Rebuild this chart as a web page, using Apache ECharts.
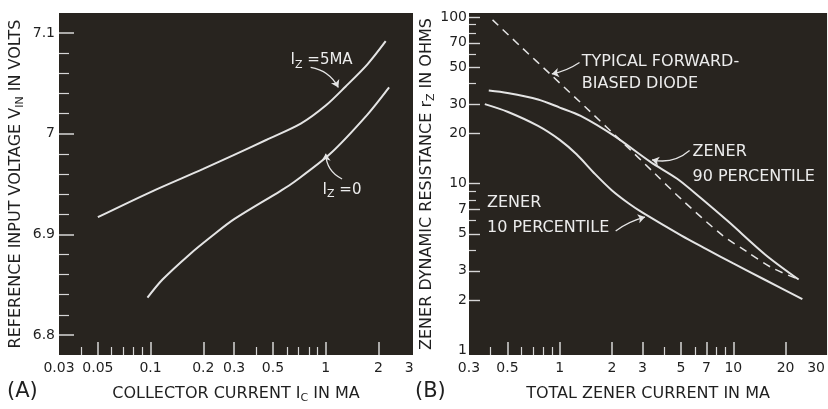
<!DOCTYPE html>
<html><head><meta charset="utf-8">
<script src="https://cdn.jsdelivr.net/npm/echarts@6/dist/echarts.min.js"></script>
<style>html,body{margin:0;padding:0;background:#fff}#c{width:828px;height:409px}</style>
</head><body><div id="c"></div>
<script>
// ---------- Panel A data ----------
const aXLabels = [0.03, 0.05, 0.1, 0.2, 0.3, 0.5, 1, 2, 3];
const aXMajorTicks = [0.05, 0.1, 0.2, 0.3, 0.5, 1, 2];
const aXMinorTicks = [0.04, 0.06, 0.07, 0.08, 0.09, 0.4, 0.6, 0.7, 0.8, 0.9];
const aYLabels = [6.8, 6.9, 7, 7.1];
const aYMinorTicks = [6.82, 6.84, 6.86, 6.88, 6.92, 6.94, 6.96, 6.98, 7.02, 7.04, 7.06, 7.08];
const iz5X = [0.05, 0.1, 0.2, 0.3, 0.46, 0.72, 1.0, 1.3, 1.73, 2.2];
const iz5V = [6.917, 6.942, 6.965, 6.979, 6.994, 7.010, 7.028, 7.047, 7.069, 7.092];
const iz0X = [0.096, 0.117, 0.167, 0.227, 0.3, 0.55, 0.66, 1.06, 1.73, 2.3];
const iz0V = [6.837, 6.855, 6.880, 6.899, 6.915, 6.943, 6.952, 6.980, 7.019, 7.046];

// ---------- Panel B data ----------
const bXLabels = [0.3, 0.5, 1, 2, 3, 5, 7, 10, 20, 30];
const bXMajorTicks = [0.5, 1, 2, 3, 5, 7, 10, 20];
const bXMinorTicks = [0.4, 0.6, 0.7, 0.8, 0.9, 4, 6, 8, 9];
const bYLabels = [1, 2, 3, 5, 7, 10, 20, 30, 50, 70, 100];
const bYMajorTicks = [2, 3, 5, 7, 10, 20, 30, 50, 70, 100];
const bYMinorTicks = [4, 6, 8, 9, 40, 60, 80, 90];
const diodeX = [0.41, 0.6, 0.89, 1.5, 2.3, 3.5, 5, 8.6, 12, 16.7, 23.5];
const diodeR = [96, 66, 45, 27, 17.7, 11.6, 8.1, 4.93, 3.9, 3.13, 2.68];
const z90X = [0.39, 0.5, 0.75, 1.0, 1.32, 2.05, 3.33, 4.75, 6.5, 9.4, 15.3, 23.8];
const z90R = [36.2, 35.0, 32, 28.6, 25.5, 19.4, 13.5, 10.7, 8.2, 5.9, 3.75, 2.66];
const z10X = [0.37, 0.5, 0.75, 1.0, 1.25, 1.6, 2.0, 2.5, 3.0, 5.0, 7.0, 10, 15, 25];
const z10R = [30, 27, 22.2, 18.3, 15.0, 11.4, 9.1, 7.6, 6.7, 4.9, 4.05, 3.32, 2.67, 2.03];

const FONT = 'DejaVu Sans';
const BOX = '#28241f';
const INK = '#1f1f1f';
const CURVE = '#e4e4e4';
const TICK = '#d6d6d6';

const zip = (xs, ys) => xs.map((x, i) => [x, ys[i]]);
const fmt = v => String(+(+v).toPrecision(3));
const sub = {fontFamily: FONT, fontSize: 11, color: INK, verticalAlign: 'bottom', lineHeight: 12};

function xAxes(grid, min, max, labels, major, minor, name) {
  return [
    {type: 'log', gridIndex: grid, min, max, position: 'bottom',
     axisLine: {show: false}, splitLine: {show: false},
     axisTick: {show: true, inside: true, length: 13, customValues: major, lineStyle: {color: TICK, width: 1.5}},
     axisLabel: {customValues: labels, formatter: fmt, color: INK, fontFamily: FONT, fontSize: 14, margin: 6, showMinLabel: true, showMaxLabel: true},
     name, nameLocation: 'middle', nameGap: 29,
     nameTextStyle: {color: INK, fontFamily: FONT, fontSize: 16, lineHeight: 20, rich: {sub}}},
    {type: 'log', gridIndex: grid, min, max, position: 'bottom',
     axisLine: {show: false}, splitLine: {show: false}, axisLabel: {show: false},
     axisTick: {show: true, inside: true, length: 8, customValues: minor, lineStyle: {color: TICK, width: 1.2}}}
  ];
}

function curve(xi, yi, data, width, type) {
  return {type: 'line', xAxisIndex: xi, yAxisIndex: yi, data, smooth: 0.3,
          showSymbol: false, lineStyle: {color: CURVE, width: width || 2, type: type || 'solid'}};
}

const option = {
  backgroundColor: '#ffffff',
  animation: false,
  grid: [
    {left: 59, top: 13, width: 354, height: 342, show: true, backgroundColor: BOX, borderWidth: 0},
    {left: 469, top: 13, width: 359, height: 345, show: true, backgroundColor: BOX, borderWidth: 0}
  ],
  xAxis: [
    ...xAxes(0, 0.03, 3.15, aXLabels, aXMajorTicks, aXMinorTicks, 'COLLECTOR CURRENT I{sub|C} IN MA'),
    ...xAxes(1, 0.3, 34.7, bXLabels, bXMajorTicks, bXMinorTicks, 'TOTAL ZENER CURRENT IN MA')
  ],
  yAxis: [
    {type: 'value', gridIndex: 0, min: 6.78, max: 7.12, position: 'left',
     axisLine: {show: false}, splitLine: {show: false},
     axisTick: {show: true, inside: true, length: 15, customValues: aYLabels, lineStyle: {color: TICK, width: 1.5}},
     axisLabel: {customValues: aYLabels, formatter: fmt, color: INK, fontFamily: FONT, fontSize: 14, margin: 4},
     name: 'REFERENCE INPUT VOLTAGE V{sub|IN} IN VOLTS', nameLocation: 'middle', nameRotate: 90, nameGap: 33,
     nameTextStyle: {color: INK, fontFamily: FONT, fontSize: 16, lineHeight: 20, rich: {sub}}},
    {type: 'value', gridIndex: 0, min: 6.78, max: 7.12, position: 'left',
     axisLine: {show: false}, splitLine: {show: false}, axisLabel: {show: false},
     axisTick: {show: true, inside: true, length: 10, customValues: aYMinorTicks, lineStyle: {color: TICK, width: 1.2}}},
    {type: 'log', gridIndex: 1, min: 0.938, max: 105.6, position: 'left',
     axisLine: {show: false}, splitLine: {show: false},
     axisTick: {show: true, inside: true, length: 11, customValues: bYMajorTicks, lineStyle: {color: TICK, width: 1.4}},
     axisLabel: {customValues: bYLabels, formatter: fmt, color: INK, fontFamily: FONT, fontSize: 14, margin: 2},
     name: 'ZENER DYNAMIC RESISTANCE r{sub|Z} IN OHMS', nameLocation: 'middle', nameRotate: 90, nameGap: 30,
     nameTextStyle: {color: INK, fontFamily: FONT, fontSize: 16, lineHeight: 20, rich: {sub}}},
    {type: 'log', gridIndex: 1, min: 0.938, max: 105.6, position: 'left',
     axisLine: {show: false}, splitLine: {show: false}, axisLabel: {show: false},
     axisTick: {show: true, inside: true, length: 7, customValues: bYMinorTicks, lineStyle: {color: TICK, width: 1.2}}}
  ],
  series: [
    curve(0, 0, zip(iz5X, iz5V)),
    curve(0, 0, zip(iz0X, iz0V)),
    curve(2, 2, zip(diodeX, diodeR), 1.5, [8, 6]),
    curve(2, 2, zip(z90X, z90R)),
    curve(2, 2, zip(z10X, z10R)),
    // annotation arrows
    {type: 'lines', coordinateSystem: 'cartesian2d', xAxisIndex: 0, yAxisIndex: 0,
     symbol: ['none', 'arrow'], symbolSize: 7,
     lineStyle: {color: CURVE, width: 1.3, opacity: 1, curveness: 0.25},
     data: [{coords: [[0.82, 7.066], [1.18, 7.046]]},
            {coords: [[1.24, 6.955], [1.0, 6.980]], lineStyle: {curveness: 0.3}}]},
    {type: 'lines', coordinateSystem: 'cartesian2d', xAxisIndex: 2, yAxisIndex: 2,
     symbol: ['none', 'arrow'], symbolSize: 7,
     lineStyle: {color: CURVE, width: 1.3, opacity: 1, curveness: 0.1},
     data: [{coords: [[1.30, 53.3], [0.90, 45.5]]},
            {coords: [[5.6, 15.8], [3.4, 13.9]], lineStyle: {curveness: 0.25}},
            {coords: [[2.1, 5.2], [3.1, 6.3]], lineStyle: {curveness: 0.1}}]}
  ]
};

const chart = echarts.init(document.getElementById('c'));
chart.setOption(option);

const p = (g, x, y) => chart.convertToPixel({gridIndex: g}, [x, y]);
const wsub = {fontFamily: FONT, fontSize: 11, fill: '#ececec', verticalAlign: 'bottom', lineHeight: 12};
function note(g, x, y, text, size) {
  const q = p(g, x, y);
  return {type: 'text', x: q[0], y: q[1], z: 100,
    style: {text, fill: '#ececec', fontFamily: FONT, fontSize: size || 16, verticalAlign: 'middle', align: 'left',
            lineHeight: 20, rich: {sub: wsub}}};
}
chart.setOption({
  graphic: [
    note(0, 0.63, 7.073, 'I{sub|Z} =5MA', 15),
    note(0, 0.96, 6.944, 'I{sub|Z} =0', 15),
    note(1, 1.34, 54.1, 'TYPICAL FORWARD-'),
    note(1, 1.34, 39.5, 'BIASED DIODE'),
    note(1, 5.82, 15.6, 'ZENER'),
    note(1, 5.82, 11.06, '90 PERCENTILE'),
    note(1, 0.381, 7.64, 'ZENER'),
    note(1, 0.381, 5.43, '10 PERCENTILE'),
    {type: 'text', x: 7, y: 392, style: {text: '(A)', fill: INK, fontFamily: FONT, fontSize: 21, verticalAlign: 'middle'}},
    {type: 'text', x: 415, y: 392, style: {text: '(B)', fill: INK, fontFamily: FONT, fontSize: 21, verticalAlign: 'middle'}}
  ]
});
</script></body></html>
